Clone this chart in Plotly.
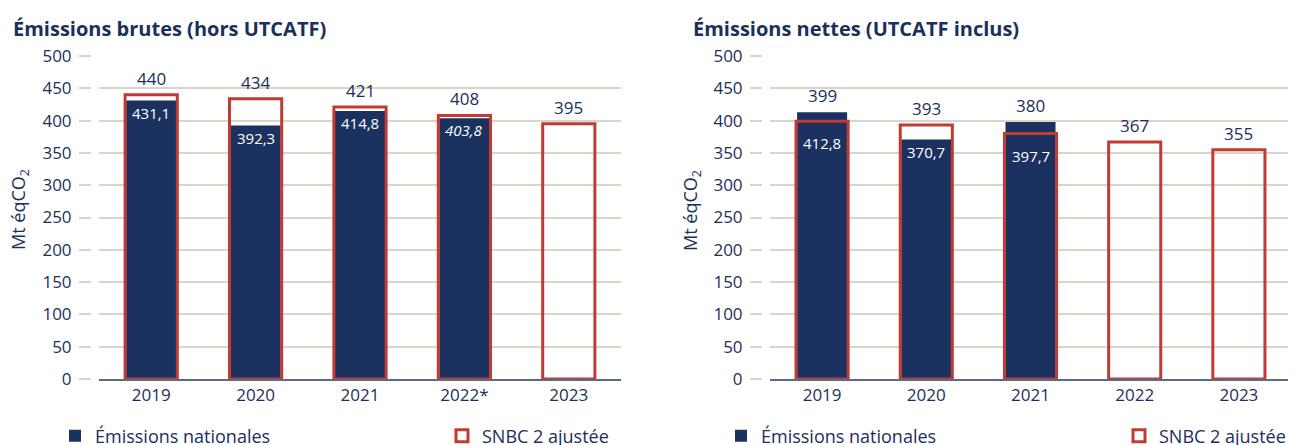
import plotly.graph_objects as go

years_brutes = ["2019", "2020", "2021", "2022*", "2023"]
years_nettes = ["2019", "2020", "2021", "2022", "2023"]

nat_brutes = [431.1, 392.3, 414.8, 403.8, None]
snbc_brutes = [440, 434, 421, 408, 395]
nat_brutes_txt = ["431,1", "392,3", "414,8", "<i>403,8</i>", ""]

nat_nettes = [412.8, 370.7, 397.7, None, None]
snbc_nettes = [399, 393, 380, 367, 355]
nat_nettes_txt = ["412,8", "370,7", "397,7", "", ""]

NAVY = "#1b3160"
RED = "#c23b33"
TXT = "#1b2f5b"
GRID = "#d8d6cb"
FONT = "Open Sans"

W, H = 1288, 445
PT, PB = 48, 371          # plot top / bottom (px from figure top)
PH = PB - PT

def px(v):
    return v / W

def py(v):
    return (PB - v) / PH

fig = go.Figure()

panels = [
    ("x", "y", years_brutes, nat_brutes, snbc_brutes, nat_brutes_txt, "legend"),
    ("x2", "y2", years_nettes, nat_nettes, snbc_nettes, nat_nettes_txt, "legend2"),
]

for xa, ya, cats, nat, snbc, ntxt, lg in panels:
    fig.add_trace(go.Bar(
        x=cats, y=nat, xaxis=xa, yaxis=ya, name="Émissions nationales",
        marker=dict(color=NAVY, line=dict(width=0)), width=0.48,
        legend=lg, hoverinfo="skip",
    ))
    fig.add_trace(go.Bar(
        x=cats, y=snbc, xaxis=xa, yaxis=ya, name="SNBC 2 ajustée",
        marker=dict(color="rgba(0,0,0,0)", line=dict(color=RED, width=3)),
        width=0.5, legend=lg, hoverinfo="skip",
    ))
    for i, (n, s, t) in enumerate(zip(nat, snbc, ntxt)):
        top = max(s, n) if n is not None else s
        fig.add_annotation(x=i, y=top, xref=xa, yref=ya, text=str(s),
                           showarrow=False, yanchor="bottom", yshift=3,
                           font=dict(size=17, color=TXT, family=FONT))
        if n is not None:
            low = min(s, n)
            shift = -10 if n > s else 0
            fig.add_annotation(x=i, y=low, xref=xa, yref=ya, text=t,
                               showarrow=False, yanchor="top", yshift=shift,
                               font=dict(size=15, color="white", family=FONT))

axis_common_y = dict(range=[0, 500], dtick=50, showgrid=True, gridcolor=GRID,
                     gridwidth=1.5, zeroline=False, ticks="outside", ticklen=19,
                     tickcolor=GRID, tickwidth=1.5, ticklabelstandoff=4,
                     tickfont=dict(size=17, color=TXT, family=FONT),
                     fixedrange=True)
axis_common_x = dict(type="category", range=[-0.5, 4.5], showline=True,
                     linecolor="#5b6a86", linewidth=2,
                     ticks="", tickfont=dict(size=17, color=TXT, family=FONT),
                     fixedrange=True)

leg_common = dict(orientation="h", xanchor="left", y=-57 / PH, yanchor="middle",
                  entrywidthmode="pixels",
                  font=dict(size=18, color=TXT, family=FONT),
                  bgcolor="rgba(0,0,0,0)", itemclick=False, itemdoubleclick=False)

fig.update_layout(
    width=W, height=H,
    margin=dict(l=0, r=0, t=PT, b=H - PB, autoexpand=False),
    paper_bgcolor="white", plot_bgcolor="white",
    barmode="overlay", showlegend=True,
    font=dict(family=FONT, color=TXT),
    xaxis=dict(domain=[px(91), px(613)], anchor="y", **axis_common_x),
    yaxis=dict(anchor="x", **axis_common_y),
    xaxis2=dict(domain=[px(762), px(1283)], anchor="y2", **axis_common_x),
    yaxis2=dict(anchor="x2", **axis_common_y),
    legend=dict(x=px(47), entrywidth=342, **leg_common),
    legend2=dict(x=px(713), entrywidth=353, **leg_common),
)

# small gap between the tick marks and the grid (as in the reference)
for x0 in (83, 754):
    fig.add_shape(type="rect", xref="paper", yref="paper",
                  x0=px(x0), x1=px(x0 + 8), y0=-0.01, y1=1.01,
                  fillcolor="white", line=dict(width=0), layer="above")

titles = [("Émissions brutes (hors UTCATF)", 3), ("Émissions nettes (UTCATF inclus)", 683)]
for txt, x in titles:
    fig.add_annotation(x=px(x), y=py(20), xref="paper", yref="paper",
                       text=f"<b>{txt}</b>", showarrow=False, xanchor="left",
                       yanchor="middle", font=dict(size=20, color=TXT, family=FONT))

for x in (12, 684):
    fig.add_annotation(x=px(x), y=py(202), xref="paper", yref="paper",
                       text="Mt éqCO<sub>2</sub>", showarrow=False, textangle=-90,
                       xanchor="center", yanchor="middle",
                       font=dict(size=18, color=TXT, family=FONT))

fig.write_html("out.html")
